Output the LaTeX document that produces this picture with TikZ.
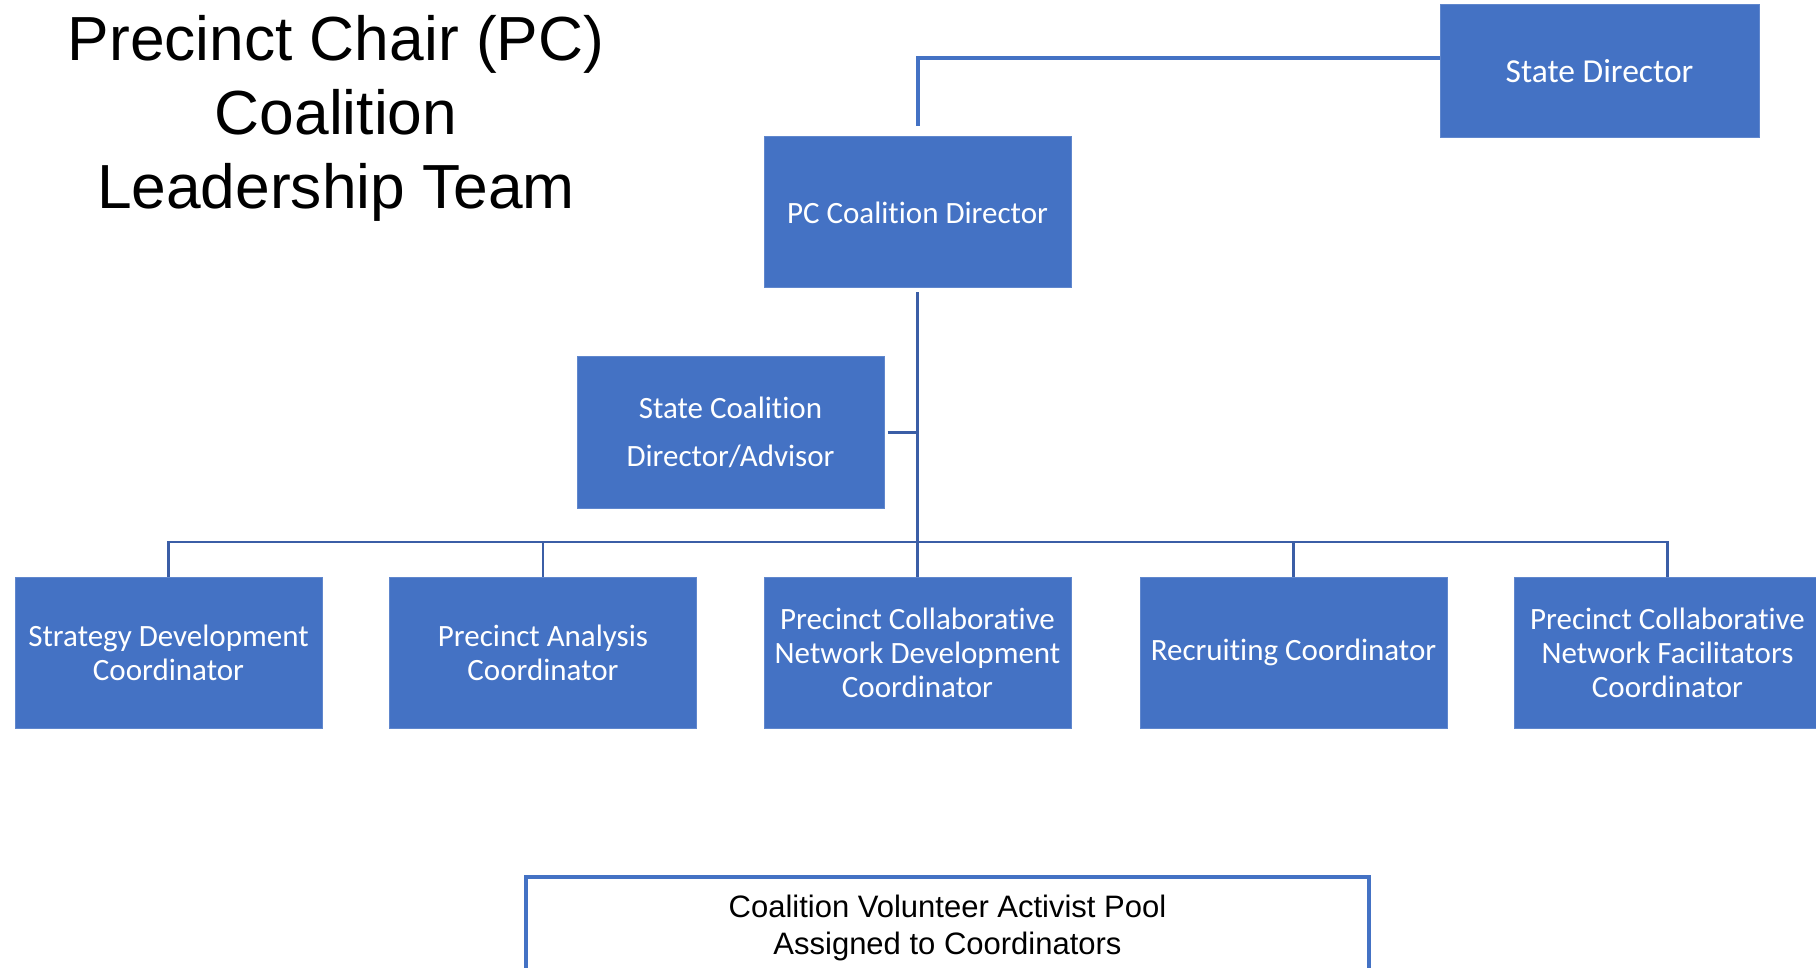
\documentclass[tikz,border=0pt]{standalone}
\usepackage{fontspec}
\setmainfont{Liberation Sans}
\newfontfamily\carlito[Ligatures=NoCommon]{Carlito}
\definecolor{boxblue}{HTML}{4472C4}
\definecolor{lineblue}{HTML}{3B5EA6}
\begin{document}
\begin{tikzpicture}[x=1pt,y=-1pt,
  bx/.style={draw=boxblue!85!white, line width=1pt, fill=boxblue, text=white, minimum width=307pt, minimum height=151pt, inner sep=4pt, align=center, font=\carlito\fontsize{31}{34}\selectfont},
  conn/.style={draw=lineblue, line width=2.6pt},
  thick conn/.style={draw=boxblue, line width=4pt},
  ttl/.style={anchor=base, font=\fontsize{62.3}{74}\selectfont}]
\clip (0,0) rectangle (1816,968);
\useasboundingbox (0,0) rectangle (1816,968);
% title
\node[ttl] (t1) at (336,61) {Precinct Chair (PC)};
\node[ttl] (t2) at (336,135) {Coalition};
\node[ttl] (t3) at (336,209) {Leadership Team};
% boxes
\node[bx, minimum width=319pt, minimum height=133pt, font=\carlito\fontsize{33.5}{36}\selectfont] (sd) at (1599.5,71.5) {State Director};
\node[bx] (pcd) at (917.5,212.5) {PC Coalition Director};
\node[bx, font=\carlito\fontsize{31}{47.5}\selectfont] (scd) at (730.5,432.5) {State Coalition\\Director/Advisor};
\node[bx] (b1) at (168.5,652.5) {Strategy Development\\Coordinator};
\node[bx] (b2) at (543,652.5) {Precinct Analysis\\Coordinator};
\node[bx] (b3) at (917.5,652.5) {Precinct Collaborative\\Network Development\\Coordinator};
\node[bx] (b4) at (1293.5,652.5) {Recruiting Coordinator};
\node[bx] (b5) at (1667.5,652.5) {Precinct Collaborative\\Network Facilitators\\Coordinator};
\node[draw=boxblue, line width=3.5pt, fill=white, minimum width=843pt, minimum height=110pt] (pool) at (947.5,932) {};
\node[align=center, font=\fontsize{31}{37}\selectfont, anchor=base] (poolt) at (947.5,954) {Coalition Volunteer Activist Pool\\Assigned to Coordinators};
% connectors
\coordinate (top) at (917.5,126);
\draw[thick conn] ([yshift=13.5pt]sd.west) -| (top);
\coordinate (bar) at (917.5,542);
\draw[conn] ([yshift=-4pt]pcd.south) -- (b3.north);
\draw[conn] ([xshift=3pt]scd.east) -- (scd.east -| pcd.south);
\draw[conn] (b1.north) -- (b1.north |- bar) -- (b5.north |- bar) -- (b5.north);
\draw[conn] (b2.north) -- (b2.north |- bar);
\draw[conn] (b4.north) -- (b4.north |- bar);
\end{tikzpicture}
\end{document}
